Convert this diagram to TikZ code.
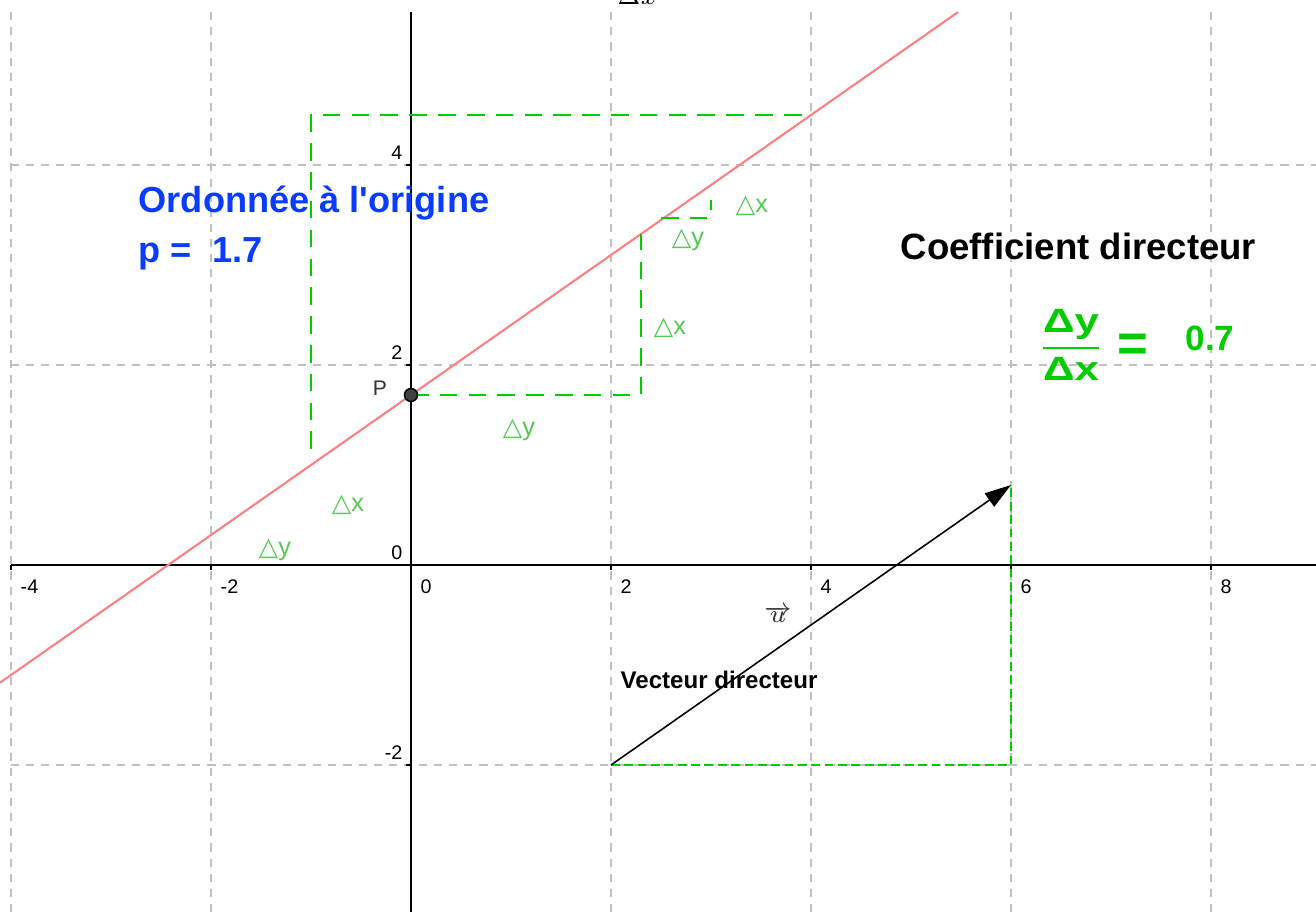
\documentclass[tikz,border=0pt]{standalone}
\usepackage{fontspec}
\setmainfont{Liberation Sans}
\newfontfamily\trifont{DejaVu Sans}
\usepackage{xcolor}
\usepackage{tikz}
\usetikzlibrary{arrows.meta}
\definecolor{ink}{HTML}{000000}
\definecolor{gridgray}{HTML}{C0C0C0}
\definecolor{linered}{HTML}{FF8080}
\definecolor{stepgreen}{HTML}{00CC00}
\definecolor{softgreen}{HTML}{55C855}
\definecolor{labelblue}{HTML}{0A3CFF}
\definecolor{pointgray}{HTML}{404040}
\definecolor{labelgray}{HTML}{333333}
\tikzset{
  gridline/.style={draw=gridgray, line width=0.3pt, dash pattern=on 2.3pt off 2pt},
  axisline/.style={draw=ink, line width=0.6pt},
  droite/.style={draw=linered, line width=0.6pt},
  stepdash/.style={draw=stepgreen, line width=0.75pt, dash pattern=on 5pt off 3.2pt},
  stepthin/.style={draw=stepgreen, line width=0.35pt, dash pattern=on 2.5pt off 1.3pt},
  vecteur/.style={draw=ink, line width=0.45pt, -{Triangle[length=7.5pt,width=4.6pt]}},
  ticklab/.style={inner sep=0pt, font=\fontsize{5.6}{7}\selectfont, text=ink},
  t/.style={inner sep=0pt, anchor=base west, font=\fontsize{10.4}{12}\selectfont\bfseries, text=ink},
  tblue/.style={t, text=labelblue, font=\fontsize{10.3}{12}\selectfont\bfseries},
  tsmall/.style={t, font=\fontsize{6.85}{8}\selectfont\bfseries},
  delta/.style={inner sep=0pt, font=\fontsize{7.2}{8}\selectfont, text=softgreen},
  tg/.style={inner sep=0pt, text=stepgreen, font=\fontsize{10}{12}\selectfont\bfseries},
}
\newcommand{\tri}[1]{{\trifont\char"25B3}#1}

\begin{document}
\begin{tikzpicture}[x=1cm, y=1cm]
  \fill[white] (-4.11,-3.47) rectangle (9.05,5.65);
  \useasboundingbox (-4.11,-3.47) rectangle (9.05,5.65);

  % grid and axes
  \foreach \x in {-4,-2,2,4,6,8}
    \draw[gridline] (\x,-3.47) -- (\x,5.53);
  \foreach \y in {-2,2,4}
    \draw[gridline] (-4,\y) -- (9.05,\y);
  \draw[axisline] (-4,0) -- (9.05,0);
  \draw[axisline] (0,-3.47) -- (0,5.53);
  \foreach \x in {-4,-2,2,4,6,8}
    \draw[axisline] (\x,0) -- (\x,-0.05);
  \foreach \y in {-2,2,4}
    \draw[axisline] (0,\y) -- (-0.05,\y);
  \foreach \x/\lab in {-4/-4,-2/-2,0/0,2/2,4/4,6/6,8/8}
    \node[ticklab, anchor=north west] (xl\lab) at (\x+0.09,-0.14) {\lab};
  \foreach \y/\lab in {-2/-2,0/0,2/2,4/4}
    \node[ticklab, anchor=east] (yl\lab) at (-0.08,\y+0.12) {\lab};

  \node[inner sep=0pt, anchor=base, font=\fontsize{7}{8}\selectfont] (dxtop) at (2.26,5.60) {$\Delta x$};

  % the line y = 0.7x + 1.7
  \coordinate (Pt) at (0,1.7);
  \draw[droite] (-4.11,-1.177) -- (5.47,5.529);

  \draw[stepdash] (-1,1.16) -- (-1,4.5) -- (4,4.5);
  \draw[stepdash] (Pt) -- (2.3,1.7) -- (2.3,3.31);
  \draw[stepdash] (2.5,3.47) -- (3,3.47) -- (3,3.65);

  \foreach \x/\y/\lab/\n in {3.41/3.59/x/1, 2.77/3.25/y/2, 2.59/2.37/x/3,
      1.08/1.35/y/4, -0.63/0.60/x/5, -1.36/0.15/y/6}
    \node[delta] (d\n) at (\x,\y) {\tri{\lab}};

  \fill[pointgray, draw=ink, line width=0.4pt] (Pt) circle (0.065);
  \node[inner sep=0pt, font=\fontsize{6}{7}\selectfont, text=labelgray] (Plab) at (-0.31,1.77) {P};

  \node[tblue] (ordo) at (-2.73,3.52) {Ordonnée à l\textquotesingle origine};
  \node[tblue] (pval) at (-2.73,3.02) {p = \ 1.7};
  \node[t] (coef) at (4.89,3.05) {Coefficient directeur};

  \node[tg, font=\fontsize{9.6}{11}\selectfont\bfseries, xscale=1.3, transform shape] (frac) at (6.60,2.20)
    {$\displaystyle{\mbox{Δy}\above0.6pt\mbox{Δx}}$};
  \node[tg, font=\fontsize{15}{16}\selectfont\bfseries] (eq) at (7.22,2.17) {=};
  \node[tg] (cval) at (7.99,2.27) {0.7};

  % direction vector
  \coordinate (ua) at (2,-2);
  \coordinate (ub) at (6,0.8);
  \draw[stepthin] (ua) -- (6,-2) -- (ub);
  \draw[vecteur] (ua) -- (ub);
  \node[inner sep=0pt, font=\fontsize{7.5}{9}\selectfont, text=labelgray] (ulab) at (3.67,-0.49) {$\overrightarrow{u}$};
  \node[tsmall] (vdir) at (2.09,-1.23) {Vecteur directeur};
\end{tikzpicture}
\end{document}
